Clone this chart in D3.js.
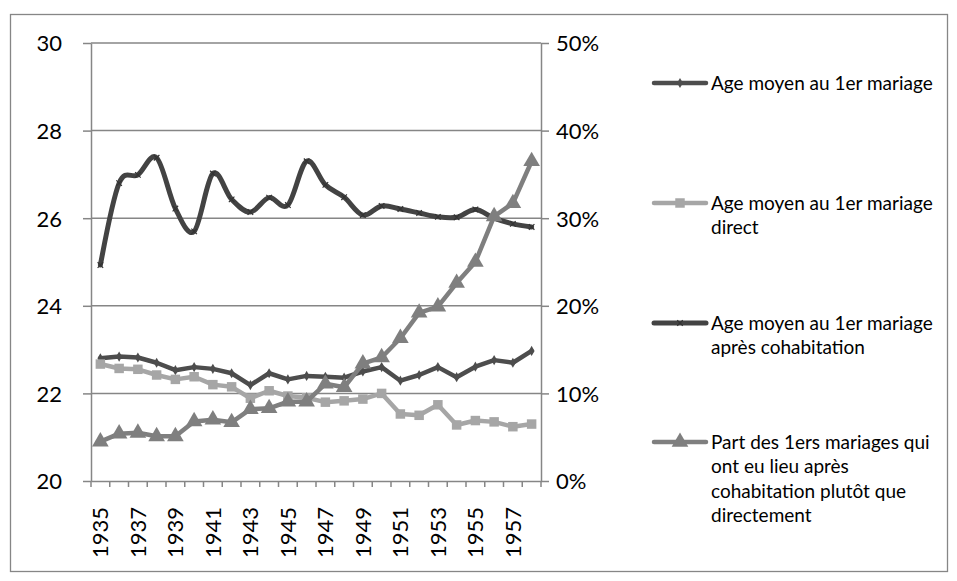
<!DOCTYPE html>
<html>
<head>
<meta charset="utf-8">
<script src="https://cdn.jsdelivr.net/npm/d3@7"></script>
<style>
  body { margin: 0; background: #fff; }
  svg text { font-family: Lato, 'Liberation Sans', sans-serif; fill: #000; }
</style>
</head>
<body>
<svg id="chart"></svg>
<script>
// values
const years = [1935, 1936, 1937, 1938, 1939, 1940, 1941, 1942, 1943, 1944, 1945, 1946,
  1947, 1948, 1949, 1950, 1951, 1952, 1953, 1954, 1955, 1956, 1957, 1958];
const ageMoyen = [22.80, 22.84, 22.82, 22.70, 22.53, 22.60, 22.56, 22.46, 22.19, 22.46, 22.32, 22.40,
  22.38, 22.36, 22.50, 22.60, 22.29, 22.42, 22.60, 22.37, 22.61, 22.76, 22.70, 22.97];
const ageDirect = [22.67, 22.57, 22.55, 22.42, 22.32, 22.38, 22.20, 22.15, 21.89, 22.06, 21.94, 21.90,
  21.80, 21.83, 21.87, 22.00, 21.53, 21.50, 21.74, 21.28, 21.38, 21.35, 21.24, 21.30];
const ageCohab = [24.93, 26.80, 26.99, 27.38, 26.22, 25.70, 27.02, 26.43, 26.14, 26.47, 26.30, 27.30,
  26.76, 26.48, 26.07, 26.28, 26.21, 26.12, 26.03, 26.02, 26.20, 26.00, 25.87, 25.80];
const partCohab = [4.5, 5.4, 5.5, 5.1, 5.1, 6.8, 7.0, 6.7, 8.2, 8.3, 9.05, 9.05,
  11.1, 10.7, 13.4, 14.1, 16.3, 19.2, 19.9, 22.6, 25.0, 30.2, 31.7, 36.5];
const leftTicks = [20, 22, 24, 26, 28, 30];
const rightTicks = [0, 10, 20, 30, 40, 50];
const legendLabels = [
  ['Age moyen au 1er mariage'],
  ['Age moyen au 1er mariage', 'direct'],
  ['Age moyen au 1er mariage', 'après cohabitation'],
  ['Part des 1ers mariages qui', 'ont eu lieu après', 'cohabitation plutôt que', 'directement']
];

const width = 957, height = 581;
const plot = { left: 91, right: 541, top: 43, bottom: 481 };
const gridColor = '#868686';

let svg = d3.select('#chart').attr('width', width).attr('height', height);

svg.append('rect')
  .attr('x', 10.5).attr('y', 14.5)
  .attr('width', 937).attr('height', 557)
  .attr('fill', '#fff').attr('stroke', gridColor).attr('stroke-width', 1.3);

let x = d3.scaleBand().domain(years).range([plot.left, plot.right]);
let yL = d3.scaleLinear().domain([20, 30]).range([plot.bottom, plot.top]);
let yR = d3.scaleLinear().domain([0, 50]).range([plot.bottom, plot.top]);
let cx = d => x(d) + x.bandwidth() / 2;

// gridlines
svg.append('g').selectAll('line')
  .data(leftTicks.filter(d => d > 20))
  .enter().append('line')
  .attr('x1', plot.left).attr('x2', plot.right)
  .attr('y1', d => yL(d)).attr('y2', d => yL(d))
  .attr('stroke', gridColor).attr('stroke-width', 1.5);

// axes
let leftAxis = svg.append('g')
  .attr('transform', 'translate(' + plot.left + ',0)')
  .call(d3.axisLeft(yL).tickValues(leftTicks).tickSize(8).tickPadding(21).tickSizeOuter(0));
let rightAxis = svg.append('g')
  .attr('transform', 'translate(' + plot.right + ',0)')
  .call(d3.axisRight(yR).tickValues(rightTicks).tickFormat(d => d + '%')
    .tickSize(8).tickPadding(7).tickSizeOuter(0));
let bottomAxis = svg.append('g')
  .attr('transform', 'translate(0,' + plot.bottom + ')')
  .call(d3.axisBottom(x).tickValues(years.filter((d, i) => i % 2 === 0)).tickSize(0).tickSizeOuter(0));

[leftAxis, rightAxis, bottomAxis].forEach(a => {
  a.select('.domain').attr('stroke', gridColor).attr('stroke-width', 1.5);
  a.selectAll('.tick line').attr('stroke', gridColor).attr('stroke-width', 1.5);
  a.selectAll('text').attr('font-size', 22).attr('fill', '#000');
});
leftAxis.selectAll('text').attr('dy', '0.36em');
rightAxis.selectAll('text').attr('dy', '0.36em');
bottomAxis.selectAll('text')
  .attr('text-anchor', 'end')
  .attr('transform', 'translate(0,26) rotate(-90)')
  .attr('x', 0).attr('y', 0).attr('dy', '0.36em');

// category tick marks at band edges
svg.append('g').selectAll('line')
  .data(years.concat(['end']))
  .enter().append('line')
  .attr('x1', d => d === 'end' ? plot.right : x(d))
  .attr('x2', d => d === 'end' ? plot.right : x(d))
  .attr('y1', plot.bottom).attr('y2', plot.bottom + 6)
  .attr('stroke', gridColor).attr('stroke-width', 1.5);

let series = [
  { values: ageMoyen, scale: yL, color: '#4d4d4d', symbol: d3.symbolDiamond, size: 30, curve: d3.curveLinear, width: 4.5 },
  { values: ageDirect, scale: yL, color: '#a6a6a6', symbol: d3.symbolSquare, size: 90, curve: d3.curveLinear, width: 4.5 },
  { values: ageCohab, scale: yL, color: '#434343', symbol: d3.symbolX, size: 22, curve: d3.curveCardinal.tension(0), width: 5, markStroke: true },
  { values: partCohab, scale: yR, color: '#7f7f7f', symbol: d3.symbolTriangle, size: 120, curve: d3.curveLinear, width: 4.5 }
];

series.forEach(s => {
  let line = d3.line()
    .x((d, i) => cx(years[i]))
    .y(d => s.scale(d))
    .curve(s.curve);
  let g = svg.append('g');
  g.append('path')
    .datum(s.values)
    .attr('d', line)
    .attr('fill', 'none')
    .attr('stroke', s.color)
    .attr('stroke-width', s.width)
    .attr('stroke-linejoin', 'round')
    .attr('stroke-linecap', 'round');
  g.selectAll('.mark')
    .data(s.values)
    .enter().append('path')
    .classed('mark', true)
    .attr('transform', (d, i) => 'translate(' + cx(years[i]) + ',' + s.scale(d) + ')')
    .attr('d', d3.symbol().type(s.symbol).size(s.size))
    .attr('fill', s.markStroke ? 'none' : s.color)
    .attr('stroke', s.markStroke ? '#333' : 'none')
    .attr('stroke-width', 1.2);
});

// legend
const legendFirstY = [83, 203, 323, 442];
let legend = svg.append('g');
legendLabels.forEach((lines, k) => {
  let s = series[k], ly = legendFirstY[k];
  legend.append('line')
    .attr('x1', 654).attr('x2', 706)
    .attr('y1', ly).attr('y2', ly)
    .attr('stroke', s.color).attr('stroke-width', s.width)
    .attr('stroke-linecap', 'round');
  legend.append('path')
    .attr('transform', 'translate(680,' + ly + ')')
    .attr('d', d3.symbol().type(s.symbol).size(s.size))
    .attr('fill', s.markStroke ? 'none' : s.color)
    .attr('stroke', s.markStroke ? '#333' : 'none')
    .attr('stroke-width', 1.2);
  lines.forEach((t, j) => {
    legend.append('text')
      .attr('x', 711).attr('y', ly + j * 24.5)
      .attr('dy', '0.36em')
      .attr('font-size', 19)
      .text(t);
  });
});
</script>
</body>
</html>
